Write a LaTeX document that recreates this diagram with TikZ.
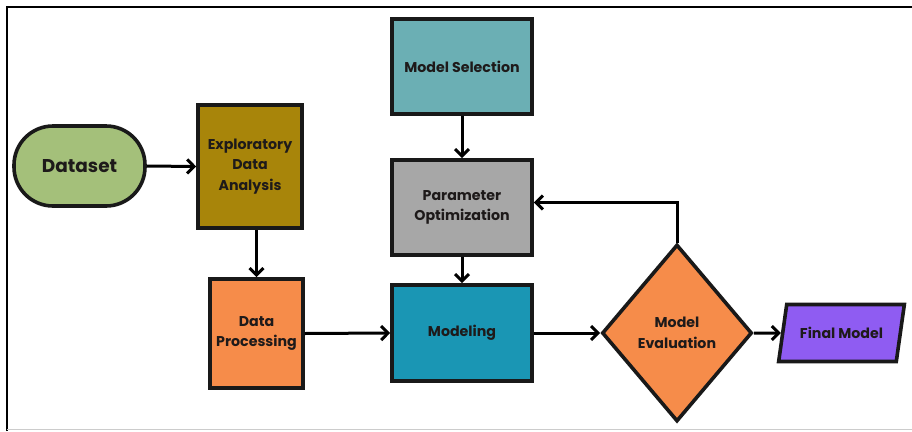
\documentclass[tikz,border=0pt]{standalone}
\usepackage{fontspec}
\setmainfont{Poppins}[BoldFont={* Bold}]
\usepackage{tikz}
\usetikzlibrary{positioning}
\usetikzlibrary{shapes.geometric}
\usetikzlibrary{arrows.meta}
\usetikzlibrary{calc}

\definecolor{dsgreen}{HTML}{A4C07A}
\definecolor{edaolive}{HTML}{A8850A}
\definecolor{msteal}{HTML}{6BAFB4}
\definecolor{pogrey}{HTML}{A7A7A7}
\definecolor{dporange}{HTML}{F68C4A}
\definecolor{modblue}{HTML}{1A96B4}
\definecolor{fmpurple}{HTML}{8F5CF2}
\definecolor{txtdark}{HTML}{1E1A1A}

\begin{document}
\begin{tikzpicture}[x=1pt,y=-1pt]
\tikzstyle{stepbox}=[draw=black!90,line width=3.6pt,inner sep=0pt,align=center,
  text=txtdark,font=\fontsize{14.2}{20.5}\selectfont\bfseries]
\tikzstyle{arrow}=[line width=3pt,-{Straight Barb[length=7pt,width=14pt,line width=3pt]}]
\useasboundingbox (0,0) rectangle (912,431);
% frame
\draw[line width=2.5pt] (7,431) -- (7,7) -- (912,7);
\draw[line width=1pt,black!20] (7,429.5) -- (912,429.5);
% nodes
\node[stepbox,fill=dsgreen,rounded corners=39pt,minimum width=131pt,minimum height=80pt,
  font=\fontsize{18.5}{22}\selectfont\bfseries] (ds) at (79.5,166) {Dataset};
\node[stepbox,fill=edaolive,minimum width=104pt,minimum height=123pt] (eda) at (250,166.5)
  {Exploratory\\Data\\Analysis};
\node[stepbox,fill=msteal,minimum width=140pt,minimum height=95pt] (ms) at (462,66.5)
  {Model Selection};
\node[stepbox,fill=pogrey,minimum width=140pt,minimum height=95pt] (po) at (462,207.5)
  {Parameter\\Optimization};
\node[stepbox,fill=dporange,minimum width=93pt,minimum height=109pt] (dp) at (256.5,333.5)
  {Data\\Processing};
\node[stepbox,fill=modblue,minimum width=140pt,minimum height=96pt] (mod) at (462,333)
  {Modeling};
\node[stepbox,fill=dporange,diamond,minimum width=150pt,minimum height=177pt] (me) at (677,333)
  {Model\\Evaluation};
\node[stepbox,fill=fmpurple,trapezium,trapezium left angle=62,trapezium right angle=118,
  trapezium stretches=true,minimum width=127pt,minimum height=57pt] (fm) at (841.5,333)
  {Final Model};
% connectors
\draw[arrow] (ds.east) -- (eda.west);
\draw[arrow] (dp.north |- eda.south) -- (dp.north);
\draw[arrow] (dp.east) -- (mod.west);
\draw[arrow] (ms.south) -- (po.north);
\draw[arrow] (po.south) -- (mod.north);
\draw[arrow] (mod.east) -- (me.west);
\draw[arrow] (me.east) -- (fm.west);
\draw[arrow] (me.north) |- ([yshift=5pt]po.east);
\end{tikzpicture}
\end{document}
